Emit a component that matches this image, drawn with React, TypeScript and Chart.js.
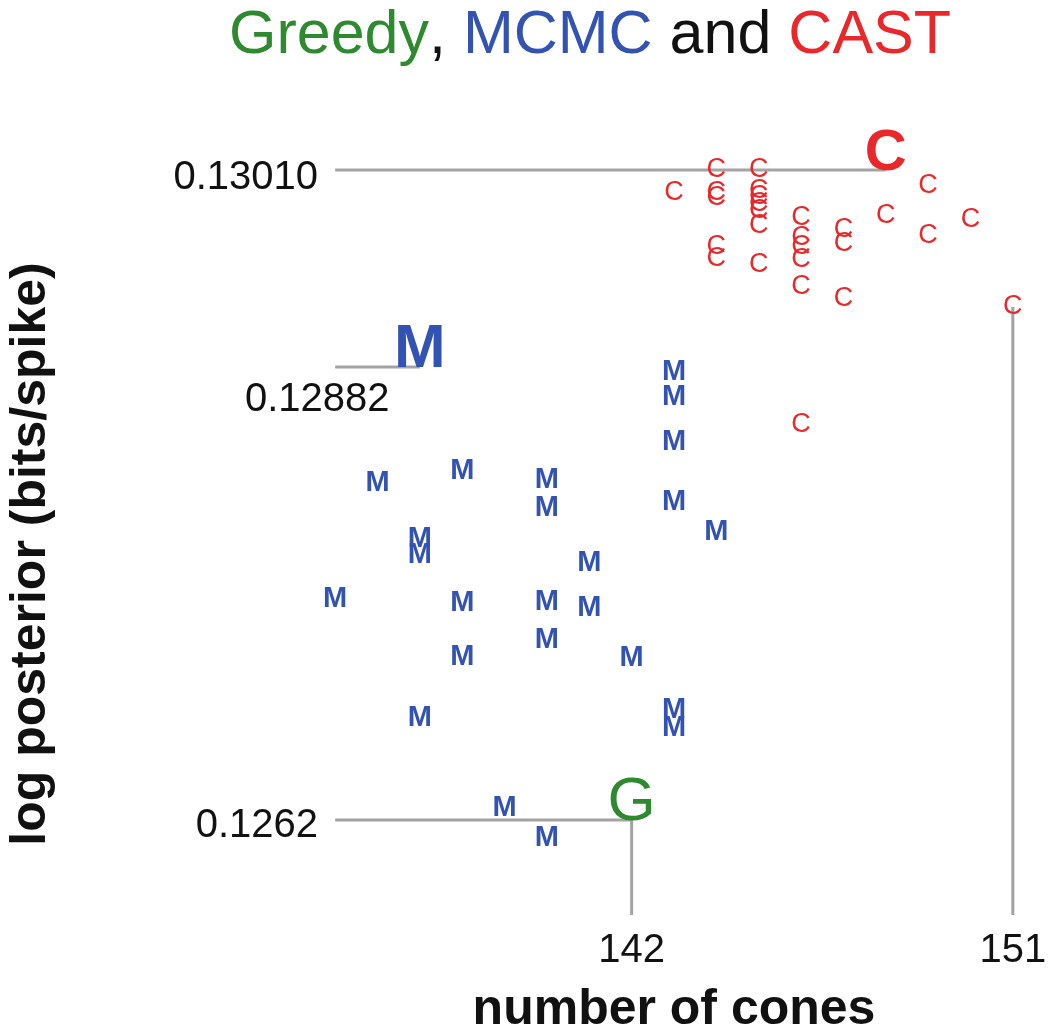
import { useEffect, useRef } from "react";
import { Chart, registerables } from "chart.js";

Chart.register(...registerables);

// ---------- data ----------
const TITLE_WORDS = ["Greedy", ", ", "MCMC", " and ", "CAST"];
const X_TITLE = "number of cones";
const Y_TITLE = "log posterior (bits/spike)";

const X_TICKS = [142, 151];
const Y_TICK_VALUES = [0.1301, 0.128918, 0.1262];
const Y_TICK_LABELS = ["0.13010", "0.12882", "0.1262"];

const X_LIMITS = [134.5, 151.5];
const Y_LIMITS = [0.12563, 0.13052];
const LINE_START_X = 135;

// CAST runs (number of cones, log posterior)
const CAST_X = [
  143,
  144, 144, 144, 144, 144,
  145, 145, 145, 145, 145, 145, 145,
  146, 146, 146, 146, 146, 146,
  147, 147, 147,
  148,
  149, 149,
  150,
  151,
];
const CAST_Y = [
  0.129962,
  0.1301, 0.129962, 0.129932, 0.129638, 0.129566,
  0.1301, 0.129974, 0.129938, 0.129896, 0.129854, 0.129764, 0.12953,
  0.129812, 0.129692, 0.129638, 0.12956, 0.129398, 0.12857,
  0.12974, 0.129656, 0.129326,
  0.129824,
  0.130004, 0.129704,
  0.1298,
  0.129278,
];

// MCMC runs
const MCMC_X = [
  135,
  136,
  137, 137, 137,
  138, 138, 138,
  139,
  140, 140, 140, 140, 140,
  141, 141,
  142,
  143, 143, 143, 143, 143, 143,
  144,
];
const MCMC_Y = [
  0.127526,
  0.128222,
  0.127886, 0.12779, 0.126812,
  0.128294, 0.127502, 0.127178,
  0.126272,
  0.12824, 0.128072, 0.127508, 0.12728, 0.126092,
  0.127742, 0.127472,
  0.127172,
  0.128888, 0.128738, 0.128468, 0.128108, 0.12686, 0.126752,
  0.127928,
];

// best results
const CAST_BEST = [148, 0.1301];
const MCMC_BEST = [137, 0.128918];
const GREEDY = [142, 0.1262];

// ---------- styles ----------
const FONT = '"Liberation Sans", Arial, Helvetica, sans-serif';
const RED = "#e8282a";
const BLUE = "#3353b3";
const GREEN = "#2e8a2e";
const BLACK = "#111111";
const GRAY = "#a3a3a3";
const TITLE_COLORS = [GREEN, BLACK, BLUE, BLACK, RED];

const toPoints = (xs: number[], ys: number[]) => xs.map((x, i) => ({ x, y: ys[i] }));

const lettersPlugin = {
  id: "letters",
  afterDatasetsDraw(chart: any) {
    const ctx = chart.ctx;
    chart.data.datasets.forEach((ds: any, i: number) => {
      const g = ds.glyph;
      if (!g) return;
      const meta = chart.getDatasetMeta(i);
      ctx.save();
      ctx.font = g.font;
      ctx.fillStyle = g.color;
      ctx.textAlign = "center";
      ctx.textBaseline = g.baseline;
      meta.data.forEach((el: any) => ctx.fillText(g.letter, el.x, el.y));
      ctx.restore();
    });
  },
  afterDraw(chart: any) {
    const ctx = chart.ctx;
    const xs = chart.scales.x;
    const ys = chart.scales.y;
    ctx.save();
    // title
    ctx.font = `61px ${FONT}`;
    ctx.textBaseline = "alphabetic";
    ctx.textAlign = "left";
    const widths = TITLE_WORDS.map((w) => ctx.measureText(w).width);
    const total = widths.reduce((a, b) => a + b, 0);
    let tx = 590 - total / 2;
    TITLE_WORDS.forEach((w, i) => {
      ctx.fillStyle = TITLE_COLORS[i];
      ctx.fillText(w, tx, 53);
      tx += widths[i];
    });

    // y tick labels
    ctx.font = `40px ${FONT}`;
    ctx.fillStyle = BLACK;
    const yLayout = [
      { align: "right", x: 318, dy: 19 },
      { align: "left", x: 245, dy: 44 },
      { align: "right", x: 318, dy: 17 },
    ];
    Y_TICK_VALUES.forEach((v, i) => {
      const py = ys.getPixelForValue(v);
      ctx.textAlign = yLayout[i].align;
      ctx.fillText(Y_TICK_LABELS[i], yLayout[i].x, py + yLayout[i].dy);
    });

    // x tick labels
    ctx.textAlign = "center";
    X_TICKS.forEach((v) => {
      ctx.fillText(String(v), xs.getPixelForValue(v), 962);
    });

    // axis titles
    ctx.font = `bold 50px ${FONT}`;
    ctx.textAlign = "center";
    ctx.fillText(X_TITLE, 674, 1024);
    ctx.translate(45, 554);
    ctx.rotate(-Math.PI / 2);
    ctx.fillText(Y_TITLE, 0, 0);
    ctx.restore();
  },
};

export default function App() {
  const ref = useRef<HTMLCanvasElement | null>(null);

  useEffect(() => {
    if (!ref.current) return;
    const yMin = Y_LIMITS[0];
    const lineStyle = {
      showLine: true,
      borderColor: GRAY,
      borderWidth: 3,
      pointRadius: 0,
      pointHoverRadius: 0,
      clip: false,
    };
    const markStyle = { pointRadius: 0, pointHoverRadius: 0, showLine: false, clip: false };

    const chart = new Chart(ref.current, {
      type: "scatter",
      data: {
        datasets: [
          { ...lineStyle, data: [{ x: LINE_START_X, y: CAST_BEST[1] }, { x: CAST_BEST[0], y: CAST_BEST[1] }] },
          { ...lineStyle, data: [{ x: LINE_START_X, y: MCMC_BEST[1] }, { x: MCMC_BEST[0], y: MCMC_BEST[1] }] },
          { ...lineStyle, data: [{ x: LINE_START_X, y: GREEDY[1] }, { x: GREEDY[0], y: GREEDY[1] }] },
          { ...lineStyle, data: [{ x: GREEDY[0], y: GREEDY[1] }, { x: GREEDY[0], y: yMin }] },
          {
            ...lineStyle,
            data: [
              { x: CAST_X[CAST_X.length - 1], y: CAST_Y[CAST_Y.length - 1] },
              { x: CAST_X[CAST_X.length - 1], y: yMin },
            ],
          },
          {
            ...markStyle,
            label: "MCMC",
            data: toPoints(MCMC_X, MCMC_Y),
            glyph: { letter: "M", font: `bold 29px ${FONT}`, color: BLUE, baseline: "middle" },
          },
          {
            ...markStyle,
            label: "CAST",
            data: toPoints(CAST_X, CAST_Y),
            glyph: { letter: "C", font: `27px ${FONT}`, color: RED, baseline: "middle" },
          },
          {
            ...markStyle,
            label: "best MCMC",
            data: [{ x: MCMC_BEST[0], y: MCMC_BEST[1] }],
            glyph: { letter: "M", font: `bold 62px ${FONT}`, color: BLUE, baseline: "alphabetic" },
          },
          {
            ...markStyle,
            label: "best CAST",
            data: [{ x: CAST_BEST[0], y: CAST_BEST[1] }],
            glyph: { letter: "C", font: `bold 58px ${FONT}`, color: RED, baseline: "alphabetic" },
          },
          {
            ...markStyle,
            label: "Greedy",
            data: [{ x: GREEDY[0], y: GREEDY[1] }],
            glyph: { letter: "G", font: `62px ${FONT}`, color: GREEN, baseline: "alphabetic" },
          },
        ] as any,
      },
      options: {
        animation: false,
        responsive: true,
        maintainAspectRatio: false,
        devicePixelRatio: 1,
        events: [],
        layout: { padding: { left: 314, right: 16, top: 100, bottom: 113 } },
        plugins: { legend: { display: false }, tooltip: { enabled: false }, title: { display: false } },
        scales: {
          x: { type: "linear", display: false, min: X_LIMITS[0], max: X_LIMITS[1] },
          y: { type: "linear", display: false, min: Y_LIMITS[0], max: Y_LIMITS[1] },
        },
      },
      plugins: [lettersPlugin],
    });
    return () => chart.destroy();
  }, []);

  return (
    <div style={{ position: "fixed", left: 0, top: 0, width: 1050, height: 1028, background: "#fff" }}>
      <canvas ref={ref} />
    </div>
  );
}
